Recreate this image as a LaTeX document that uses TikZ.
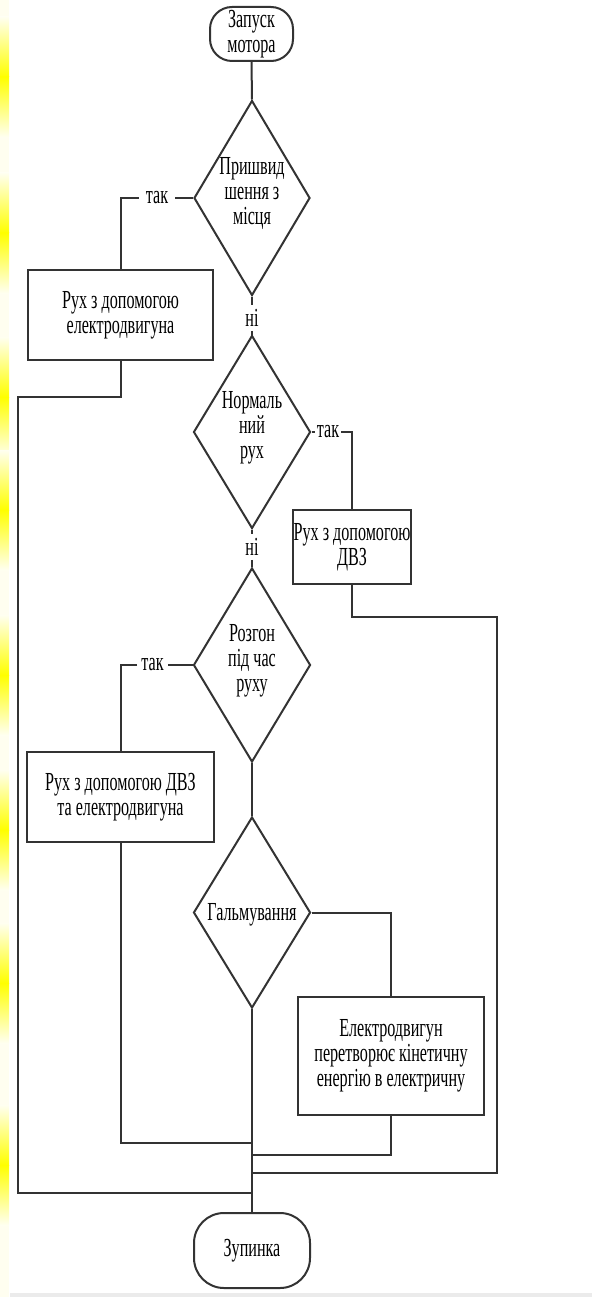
\documentclass[tikz,border=0pt]{standalone}
\usepackage{fontspec}
\setmainfont{Liberation Serif}[FakeStretch=0.62]
\usetikzlibrary{shapes.geometric}

\begin{document}
\begin{tikzpicture}[x=1pt,y=-1pt,
  every node/.style={font=\fontsize{26}{25}\selectfont, text=black},
  line/.style={draw=black!80, line width=2pt},
  decision/.style={diamond, draw=black!80, line width=2pt, inner sep=0pt,
                   minimum width=117pt, minimum height=193pt},
  process/.style={rectangle, draw=black!80, line width=2.2pt, inner sep=0pt, align=center},
  terminal/.style={rectangle, draw=black!80, line width=2pt, inner sep=0pt, align=center},
  btext/.style={align=center, inner sep=0pt},
  branch/.style={inner ysep=2pt}
]
% page and side strip
\useasboundingbox (0,0) rectangle (592,1297);
\fill[white] (0,0) rectangle (592,1297);
\fill[yellow!6] (0,0) rectangle (9,1297);
\foreach \p in {77,233,397,510,675,830,983,1165} {
  \shade[top color=yellow!6, bottom color=yellow] (0,\p-60) rectangle (9,\p);
  \shade[top color=yellow, bottom color=yellow!6] (0,\p) rectangle (9,\p+60);
}
\fill[black!8] (10,1293) rectangle (592,1297);

% blocks
\node[terminal, rounded corners=22pt, minimum width=83pt, minimum height=54pt]
  (start) at (251.5,34) {Запуск\\мотора};

\node[decision, minimum height=195pt, minimum width=116pt] (d1) at (252,198) {};
\node[btext] (d1t) at (252,194) {Пришвид\\шення з\\місця};

\node[process, minimum width=185pt, minimum height=90pt] (b1) at (120.5,315)
  {Рух з допомогою\\електродвигуна};

\node[decision] (d2) at (252,432) {};
\node[btext] (d2t) at (252,428) {Нормаль\\ний\\рух};

\node[process, minimum width=118pt, minimum height=74pt] (b2) at (352,547)
  {Рух з допомогою\\ДВЗ};

\node[decision, minimum height=194pt] (d3) at (252,665) {};
\node[btext] (d3t) at (252,661) {Розгон\\під час\\руху};

\node[process, minimum width=187pt, minimum height=90pt] (b3) at (120.5,797)
  {Рух з допомогою ДВЗ\\та електродвигуна};

\node[decision, minimum height=191pt] (d4) at (252,912.5) {};
\node[btext] (d4t) at (252,915) {Гальмування};

\node[process, minimum width=186pt, minimum height=118pt] (b4) at (391,1056)
  {Електродвигун\\перетворює кінетичну\\енергію в електричну};

\node[terminal, rounded corners=30pt, minimum width=116pt, minimum height=75pt]
  (stop) at (252,1250.5) {Зупинка};

% branch labels
\node[branch, inner xsep=7pt] (t1) at (157,198) {так};
\node[branch, inner xsep=2pt] (t2) at (328,432) {так};
\node[branch, inner xsep=4pt] (t3) at (152.5,665) {так};
\node[inner xsep=2pt, inner ysep=4pt] (n1) at (252,318) {ні};
\node[inner xsep=2pt, inner ysep=4pt] (n2) at (252,547) {ні};

% junction points
\coordinate (k1) at (18,397);
\coordinate (j1) at (252,1193);
\coordinate (k2) at (497,617);
\coordinate (j2) at (252,1173);
\coordinate (j3) at (252,1143);
\coordinate (j4) at (252,1155);

% connectors
\draw[line] (start.south) -- (d1.north);
\draw[line] (d1.west) -- (t1.east);
\draw[line] (t1.west) -| (b1.north);
\draw[line] (d1.south) -- (n1.north);
\draw[line] (n1.south) -- (d2.north);
\draw[line] (b1.south) |- (k1) |- (j1);

\draw[line] (d2.east) -- (t2.west);
\draw[line] (t2.east) -| (b2.north);
\draw[line] (d2.south) -- (n2.north);
\draw[line] (n2.south) -- (d3.north);
\draw[line] (b2.south) |- (k2) |- (j2);

\draw[line] (d3.west) -- (t3.east);
\draw[line] (t3.west) -| (b3.north);
\draw[line] (d3.south) -- (d4.north);
\draw[line] (b3.south) |- (j3);

\draw[line] (d4.east) -| (b4.north);
\draw[line] (b4.south) |- (j4);
\draw[line] (d4.south) -- (stop.north);
\end{tikzpicture}
\end{document}
